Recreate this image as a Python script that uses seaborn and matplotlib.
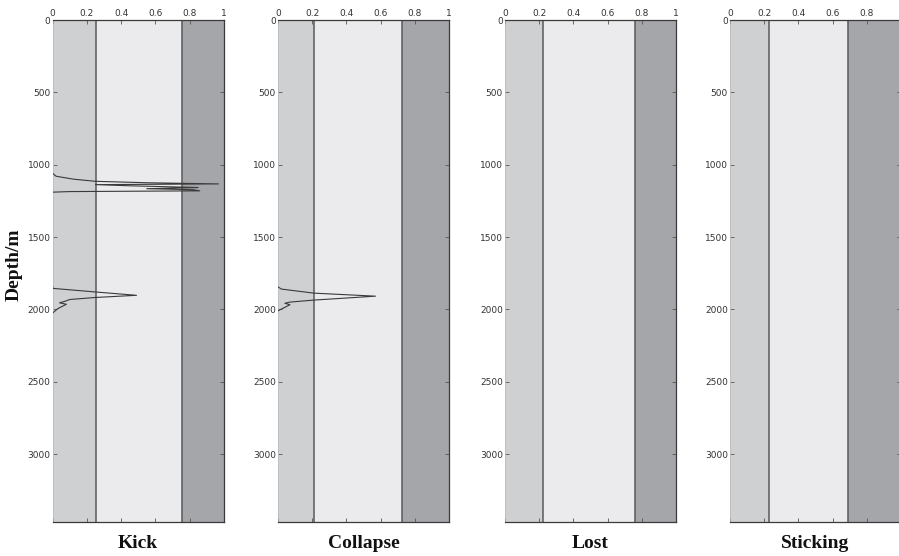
import matplotlib
matplotlib.use("Agg")
import matplotlib.pyplot as plt
import seaborn as sns
import pandas as pd

sns.set_theme(style="white")
plt.rcParams["font.family"] = ["DejaVu Sans"]

# Panel titles and the risk-level band limits (low | medium | high) on the 0-1 scale
panels = ["Kick", "Collapse", "Lost", "Sticking"]
band_low = [0.251, 0.21, 0.224, 0.228]
band_high = [0.757, 0.725, 0.76, 0.69]

# Depth ticks (m) and probability ticks
depth_ticks = [0, 500, 1000, 1500, 2000, 2500, 3000]
prob_ticks = [0, 0.2, 0.4, 0.6, 0.8, 1]
prob_labels = ["0", "0.2", "0.4", "0.6", "0.8", "1"]
depth_max = 3470

# Kick probability: two anomaly intervals
kick1_depth = [1060, 1080, 1100, 1115, 1125, 1133, 1138, 1146, 1158, 1166, 1173, 1181, 1186, 1190]
kick1_value = [0.0, 0.02, 0.12, 0.25, 0.55, 0.97, 0.25, 0.45, 0.85, 0.55, 0.82, 0.86, 0.1, 0.0]
kick2_depth = [1840, 1855, 1880, 1903, 1918, 1932, 1945, 1955, 1965, 1995, 2025]
kick2_value = [0.0, 0.0, 0.25, 0.49, 0.25, 0.1, 0.07, 0.04, 0.08, 0.03, 0.0]

# Collapse probability: one anomaly interval
collapse_depth = [1845, 1860, 1888, 1909, 1936, 1950, 1958, 1968, 2010]
collapse_value = [0.0, 0.02, 0.21, 0.57, 0.21, 0.07, 0.04, 0.07, 0.0]

curves = {
    "Kick": [(kick1_depth, kick1_value), (kick2_depth, kick2_value)],
    "Collapse": [(collapse_depth, collapse_value)],
    "Lost": [],
    "Sticking": [],
}

c_low = "#cfd0d2"
c_mid = "#ebebed"
c_high = "#a5a6aa"
c_edge = "#5a5a5c"

W, H = 899, 556
fig = plt.figure(figsize=(W / 100, H / 100), dpi=100)
lefts_px = [52.7, 278, 505, 730]
width_px = 171
top_px, bottom_px = 20, 522

for i, name in enumerate(panels):
    ax = fig.add_axes([lefts_px[i] / W, 1 - bottom_px / H,
                       width_px / W, (bottom_px - top_px) / H])
    ax.axvspan(0, band_low[i], color=c_low, lw=0, zorder=0)
    ax.axvspan(band_low[i], band_high[i], color=c_mid, lw=0, zorder=0)
    ax.axvspan(band_high[i], 1, color=c_high, lw=0, zorder=0)
    for b in (band_low[i], band_high[i]):
        ax.axvline(b, color=c_edge, lw=1.1, zorder=1)

    for d, v in curves[name]:
        df = pd.DataFrame({"depth": d, "p": v})
        sns.lineplot(data=df, x="p", y="depth", sort=False, estimator=None,
                     color="#3a3a3a", lw=0.8, ax=ax, zorder=3)

    ax.set_xlim(0, 1)
    ax.set_ylim(depth_max, 0)
    ax.set_xticks(prob_ticks)
    labels = list(prob_labels)
    if i == len(panels) - 1:
        # the last panel runs to the figure edge, so its "1" is not shown
        labels[-1] = ""
    ax.set_xticklabels(labels)
    ax.set_yticks(depth_ticks)
    ax.set_yticklabels([str(t) for t in depth_ticks])
    ax.xaxis.tick_top()
    ax.tick_params(axis="both", which="both", direction="in", length=3,
                   width=0.6, color="#555555", labelsize=6.5,
                   labelcolor="#333333", pad=1.5,
                   top=True, bottom=True, left=True, right=True)
    ax.set_xlabel("")
    ax.set_ylabel("")
    for side in ("top", "right", "bottom"):
        ax.spines[side].set_color("#3a3a3a")
        ax.spines[side].set_linewidth(0.9)
    ax.spines["left"].set_color("#b8b8ba")
    ax.spines["left"].set_linewidth(0.5)

    cx = (lefts_px[i] + width_px / 2) / W
    fig.text(cx, 1 - 543 / H, name, ha="center", va="center",
             fontsize=14, fontweight="bold", family=["Liberation Serif"],
             color="#111111")

fig.text(14 / W, 1 - 265 / H, "Depth/m", rotation=90, ha="center",
         va="center", fontsize=14, fontweight="bold",
         family=["Liberation Serif"], color="#111111")

fig.savefig("out.png", dpi=100, facecolor="white")
